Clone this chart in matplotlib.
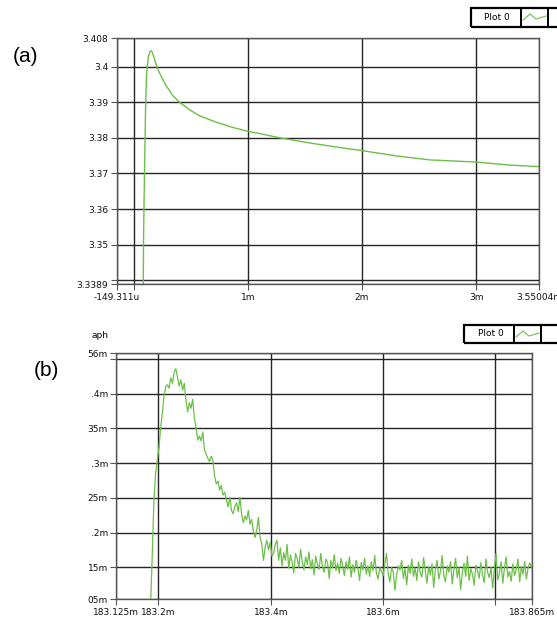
import numpy as np
import matplotlib
matplotlib.use("Agg")
import matplotlib.pyplot as plt
from matplotlib.patches import Rectangle
from matplotlib.lines import Line2D

W, H = 557, 619

# ---------------- data: panel (a) ----------------
a_t = [0.0852, 0.0878, 0.0966, 0.1054, 0.1141, 0.129, 0.144, 0.158, 0.173, 0.1905,
       0.211, 0.2405, 0.284, 0.342, 0.401, 0.489, 0.577, 0.723, 0.869, 0.992,
       1.162, 1.279, 1.572, 1.865, 2.002, 2.304, 2.596, 3.0, 3.27, 3.55]
a_v = [3.3384, 3.3528, 3.3716, 3.3886, 3.3980, 3.4027, 3.4043, 3.4044, 3.4032, 3.4013,
       3.3994, 3.3973, 3.3947, 3.3919, 3.3900, 3.3879, 3.3862, 3.3844, 3.3829, 3.3819,
       3.3808, 3.3800, 3.3784, 3.3770, 3.3764, 3.3749, 3.3738, 3.3732, 3.3724, 3.3719]
a_xticks = [-0.149311, 0.0, 1.0, 2.0, 3.0, 3.55004]
a_xlabels = ["-149.311u", "", "1m", "2m", "3m", "3.55004m"]
a_yticks = [3.3389, 3.34, 3.35, 3.36, 3.37, 3.38, 3.39, 3.40, 3.408]
a_ylabels = ["3.3389", "", "3.35", "3.36", "3.37", "3.38", "3.39", "3.4", "3.408"]

# ---------------- data: panel (b) ----------------
b_t0 = 183.186
b_dt = 0.003
b_v_milli = [
    95, 168, 247, 286, 304, 323, 351, 372, 398, 410, 413, 408, 423, 415, 431, 436, 423, 411, 420, 405,
    415, 391, 374, 387, 379, 392, 365, 351, 333, 339, 332, 345, 319, 313, 307, 302, 310, 303, 281, 270,
    274, 261, 268, 254, 258, 247, 237, 251, 232, 227, 238, 243, 230, 251, 227, 214, 224, 218, 232, 212,
    219, 202, 193, 203, 222, 193, 183, 160, 179, 189, 175, 186, 166, 170, 183, 189, 160,
    178, 152, 171, 160, 183, 149, 168, 157, 142, 170, 163, 150, 176, 158, 146, 165, 154, 172, 148, 161,
    139, 166, 155, 147, 170, 151, 143, 162, 157, 134, 160, 149, 168, 145, 156, 141, 163, 152, 138, 158,
    147, 165, 136, 154, 143, 160, 149, 131, 157, 146, 163, 140, 152, 137, 158, 145, 167, 142, 133, 150,
    144, 138, 155, 170, 141, 129, 150, 143, 117, 139, 152, 146, 160, 134, 148, 125, 153, 141, 162, 137,
    149, 131, 158, 142, 136, 164, 145, 127, 151, 139, 155, 121, 147, 160, 133, 144, 167, 138, 129, 152,
    143, 158, 126, 147, 163, 135, 150, 118, 142, 156, 137, 166, 131, 148, 140, 124, 153, 145, 134, 157,
    139, 128, 162, 143, 135, 150, 120, 146, 170, 132, 141, 158, 127, 149, 165, 136, 144, 130, 155, 138,
    147, 162, 129, 151, 140, 158, 133, 149, 156, 150]
b_xticks = [183.125, 183.2, 183.4, 183.6, 183.8, 183.865]
b_xlabels = ["183.125m", "183.2m", "183.4m", "183.6m", "", "183.865m"]
b_yticks = [0.1039, 0.15, 0.20, 0.25, 0.30, 0.35, 0.40, 0.45, 0.4582]
b_ylabels = ["05m", "15m", ".2m", "25m", ".3m", "35m", ".4m", "", "56m"]

GREEN = "#6cc048"
GRID = "#262626"
SPINE = "#555555"


def fx(px):
    return px / W


def fy(py):
    return 1 - py / H


fig = plt.figure(figsize=(W / 100, H / 100), dpi=100)
fig.patch.set_facecolor("white")


def style_axes(ax, xticks, xlabels, yticks, ylabels, xlim, ylim):
    ax.set_xlim(*xlim)
    ax.set_ylim(*ylim)
    ax.set_xticks(xticks)
    ax.set_xticklabels(xlabels)
    ax.set_yticks(yticks)
    ax.set_yticklabels(ylabels)
    ax.tick_params(axis="both", direction="out", length=4.5, width=0.8,
                   color=SPINE, labelsize=6.5, pad=1.5, labelcolor="#111111")
    ax.grid(True, color=GRID, linewidth=1.0)
    ax.set_axisbelow(True)
    for s in ax.spines.values():
        s.set_color(SPINE)
        s.set_linewidth(1.0)


def draw_legend(x0, y0, x1, y1, sep1, sep2, textx):
    fig.patches.append(Rectangle((fx(x0), fy(y1)), fx(x1) - fx(x0), fy(y0) - fy(y1),
                                 transform=fig.transFigure, fill=False,
                                 edgecolor="black", linewidth=1.6, clip_on=False))
    for s in (sep1, sep2):
        fig.lines.append(Line2D([fx(s), fx(s)], [fy(y0), fy(y1)], transform=fig.transFigure,
                                color="black", linewidth=1.4))
    fig.text(fx(textx), fy((y0 + y1) / 2), "Plot 0", fontsize=6.5, ha="center", va="center")
    ym = (y0 + y1) / 2
    xs = [sep1 + 2, sep1 + 9, sep1 + 15, sep2 - 2]
    ys = [ym + 3, ym - 3, ym + 2, ym - 1]
    fig.lines.append(Line2D([fx(v) for v in xs], [fy(v) for v in ys],
                            transform=fig.transFigure, color=GREEN, linewidth=0.8))


# ---------------- panel (a) ----------------
ax1 = fig.add_axes([fx(116.5), fy(284.3), fx(539) - fx(116.5), fy(38) - fy(284.3)])
style_axes(ax1, a_xticks, a_xlabels, a_yticks, a_ylabels,
           (a_xticks[0], a_xticks[-1]), (a_yticks[0], a_yticks[-1]))
ax1.plot(a_t, a_v, color=GREEN, linewidth=1.0)
draw_legend(471, 7.5, 562, 26.5, 521, 548, 497)
fig.text(fx(26), fy(57), "(a)", fontsize=15, family="Liberation Sans", ha="center", va="center")

# ---------------- panel (b) ----------------
ax2 = fig.add_axes([fx(116.3), fy(599.3), fx(532) - fx(116.3), fy(353.3) - fy(599.3)])
style_axes(ax2, b_xticks, b_xlabels, b_yticks, b_ylabels,
           (b_xticks[0], b_xticks[-1]), (b_yticks[0], b_yticks[-1]))
b_t = b_t0 + b_dt * np.arange(len(b_v_milli))
ax2.plot(b_t, np.array(b_v_milli) / 1000.0, color=GREEN, linewidth=0.9)
draw_legend(464, 325, 562, 343, 514, 541, 491)
fig.text(fx(46), fy(370), "(b)", fontsize=15, family="Liberation Sans", ha="center", va="center")
fig.text(fx(91), fy(336), "aph", fontsize=6.5, ha="left", va="center")

fig.savefig("out.png", dpi=100)
